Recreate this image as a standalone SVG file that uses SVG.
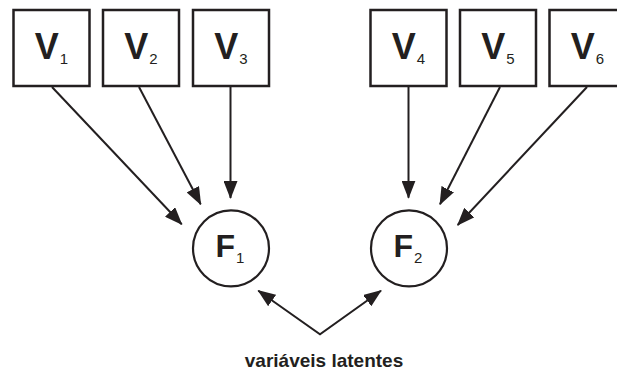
<svg xmlns="http://www.w3.org/2000/svg" width="617" height="371" viewBox="0 0 617 371">
<defs>
<style>
.box{fill:#fff;stroke:#231f20;stroke-width:2.5}
.circ{fill:#fff;stroke:#231f20;stroke-width:2.2}
.lbl{font-family:"Liberation Sans",Arial,sans-serif;fill:#231f20;text-anchor:middle}
.big{font-size:36px;font-weight:bold}
.fbig{font-size:32px;font-weight:bold}
.sub{font-size:15px;font-weight:normal}
.edge{fill:none;stroke:#231f20;stroke-width:2}
.cap{font-family:"Liberation Sans",Arial,sans-serif;font-size:19px;font-weight:bold;fill:#231f20;text-anchor:middle}
</style>
<marker id="ah" markerUnits="userSpaceOnUse" markerWidth="18" markerHeight="14" refX="17" refY="7" orient="auto-start-reverse" viewBox="0 0 18 14">
<path d="M0,0 L18,7 L0,14 z" fill="#231f20"/>
</marker>
</defs>
<rect width="617" height="371" fill="#fff"/>
<g id="connectors">
<line class="edge" x1="52" y1="87" x2="181.7" y2="224.3" marker-end="url(#ah)"/>
<line class="edge" x1="139" y1="87" x2="200.7" y2="204.3" marker-end="url(#ah)"/>
<line class="edge" x1="230.5" y1="87" x2="230.5" y2="198" marker-end="url(#ah)"/>
<line class="edge" x1="408.5" y1="87" x2="408.5" y2="197.7" marker-end="url(#ah)"/>
<line class="edge" x1="500" y1="87" x2="440" y2="204.3" marker-end="url(#ah)"/>
<line class="edge" x1="587" y1="87" x2="457.7" y2="225" marker-end="url(#ah)"/>
<polyline class="edge" points="258.3,290.7 320,334.3 381,290.7" marker-start="url(#ah)" marker-end="url(#ah)"/>
</g>
<g id="V1"><rect class="box" x="13.5" y="10" width="76" height="76"/><text class="lbl big" x="51.5" y="59.3">V<tspan class="sub" dx="1" dy="5">1</tspan></text></g>
<g id="V2"><rect class="box" x="103" y="10" width="76" height="76"/><text class="lbl big" x="141" y="59.3">V<tspan class="sub" dx="1" dy="5">2</tspan></text></g>
<g id="V3"><rect class="box" x="193" y="10" width="76" height="76"/><text class="lbl big" x="231" y="59.3">V<tspan class="sub" dx="1" dy="5">3</tspan></text></g>
<g id="V4"><rect class="box" x="370.5" y="10" width="76" height="76"/><text class="lbl big" x="408.5" y="59.3">V<tspan class="sub" dx="1" dy="5">4</tspan></text></g>
<g id="V5"><rect class="box" x="460" y="10" width="76" height="76"/><text class="lbl big" x="498" y="59.3">V<tspan class="sub" dx="1" dy="5">5</tspan></text></g>
<g id="V6"><rect class="box" x="549.5" y="10" width="76" height="76"/><text class="lbl big" x="587.5" y="59.3">V<tspan class="sub" dx="1" dy="5">6</tspan></text></g>
<g id="F1"><circle class="circ" cx="231" cy="248.3" r="38"/><text class="lbl fbig" x="230" y="256.7">F<tspan class="sub" dx="1" dy="6.6">1</tspan></text></g>
<g id="F2"><circle class="circ" cx="409" cy="248.3" r="38"/><text class="lbl fbig" x="408" y="256.7">F<tspan class="sub" dx="1" dy="6.6">2</tspan></text></g>
<g id="caption"><text class="cap" x="324" y="366.5">variáveis latentes</text></g>
</svg>
